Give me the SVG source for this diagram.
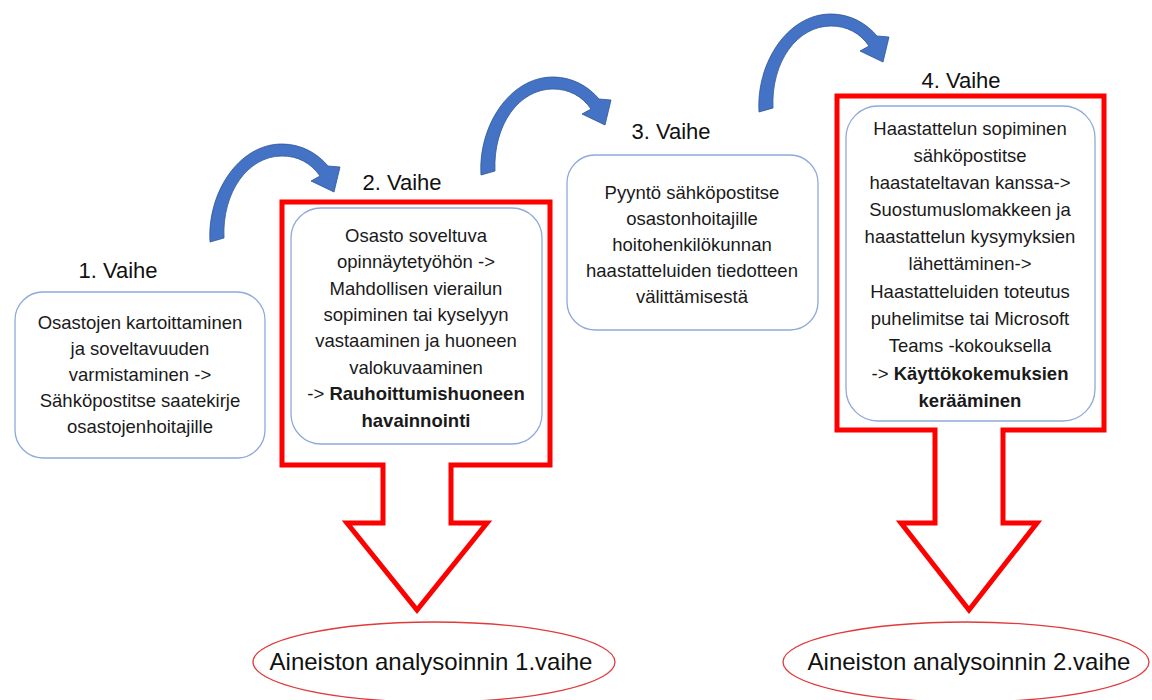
<svg xmlns="http://www.w3.org/2000/svg" width="1152" height="700" viewBox="0 0 1152 700">
<style>
.t{font-family:"Liberation Sans",Arial,sans-serif;font-size:18.5px;fill:#1a1a1a;text-anchor:middle}
.h{font-family:"Liberation Sans",Arial,sans-serif;font-size:22px;fill:#111;text-anchor:middle}
.e{font-family:"Liberation Sans",Arial,sans-serif;font-size:24px;fill:#111;text-anchor:middle}
.b{font-weight:bold}
.box{fill:#fff;stroke:#8eaadb;stroke-width:1.3}
.call{fill:#fff;stroke:#ff0000;stroke-width:5;stroke-linejoin:miter}
.ell{fill:#fff;stroke:#e03a3a;stroke-width:1.3}
.arc{fill:#4472c4;stroke:#2f5597;stroke-width:0.8}
</style>
<defs>
<path id="curv" d="M0,0 C-3,-48 28,-98 72,-98 C92,-98 108,-88 118,-76 L130,-75 L124,-50 L101,-61 L110,-66 C101,-79 88,-86 72,-86 C38,-86 12,-50 14,-4 Z"/>
</defs>
<rect width="1152" height="700" fill="#fff"/>

<g id="connectors">
<use href="#curv" class="arc" transform="translate(210,242)"/>
<use href="#curv" class="arc" transform="translate(481,175)"/>
<use href="#curv" class="arc" transform="translate(759,112)"/>
<path class="call" d="M282,202 H550 V465 H451 V523 H487 L417,610 L347,523 H383 V465 H282 Z"/>
<path class="call" d="M837,96 H1104 V430 H1003 V523 H1037 L969,610 L901,523 H935 V430 H837 Z"/>
</g>

<g id="stage1">
<text class="h" x="118" y="278">1. Vaihe</text>
<rect class="box" x="15" y="292" width="250" height="166" rx="28"/>
<text class="t" x="140" y="329">Osastojen kartoittaminen</text>
<text class="t" x="140" y="355">ja soveltavuuden</text>
<text class="t" x="140" y="381">varmistaminen -&gt;</text>
<text class="t" x="140" y="407">Sähköpostitse saatekirje</text>
<text class="t" x="140" y="433">osastojenhoitajille</text>
</g>

<g id="stage2">
<text class="h" x="402" y="190">2. Vaihe</text>
<rect class="box" x="291" y="208" width="251" height="236" rx="30"/>
<text class="t" x="416" y="242">Osasto soveltuva</text>
<text class="t" x="416" y="268">opinnäytetyöhön -&gt;</text>
<text class="t" x="416" y="295">Mahdollisen vierailun</text>
<text class="t" x="416" y="321">sopiminen tai kyselyyn</text>
<text class="t" x="416" y="347">vastaaminen ja huoneen</text>
<text class="t" x="416" y="374">valokuvaaminen</text>
<text class="t" x="416" y="400">-&gt; <tspan class="b">Rauhoittumishuoneen</tspan></text>
<text class="t b" x="416" y="427">havainnointi</text>
</g>

<g id="stage3">
<text class="h" x="671" y="139">3. Vaihe</text>
<rect class="box" x="567" y="155" width="251" height="175" rx="28"/>
<text class="t" x="692" y="199">Pyyntö sähköpostitse</text>
<text class="t" x="692" y="225">osastonhoitajille</text>
<text class="t" x="692" y="251">hoitohenkilökunnan</text>
<text class="t" x="692" y="277">haastatteluiden tiedotteen</text>
<text class="t" x="692" y="303">välittämisestä</text>
</g>

<g id="stage4">
<text class="h" x="961" y="88">4. Vaihe</text>
<rect class="box" x="846" y="106" width="249" height="315" rx="32"/>
<text class="t" x="970" y="135">Haastattelun sopiminen</text>
<text class="t" x="970" y="162">sähköpostitse</text>
<text class="t" x="970" y="189">haastateltavan kanssa-&gt;</text>
<text class="t" x="970" y="216">Suostumuslomakkeen ja</text>
<text class="t" x="970" y="243">haastattelun kysymyksien</text>
<text class="t" x="970" y="270">lähettäminen-&gt;</text>
<text class="t" x="970" y="298">Haastatteluiden toteutus</text>
<text class="t" x="970" y="325">puhelimitse tai Microsoft</text>
<text class="t" x="970" y="352">Teams -kokouksella</text>
<text class="t" x="970" y="380">-&gt; <tspan class="b">Käyttökokemuksien</tspan></text>
<text class="t b" x="970" y="407">kerääminen</text>
</g>

<g id="analysis1">
<ellipse class="ell" cx="434" cy="662" rx="181" ry="40"/>
<text class="e" x="431" y="670">Aineiston analysoinnin 1.vaihe</text>
</g>

<g id="analysis2">
<ellipse class="ell" cx="966" cy="662" rx="183" ry="40"/>
<text class="e" x="969" y="670">Aineiston analysoinnin 2.vaihe</text>
</g>
</svg>
